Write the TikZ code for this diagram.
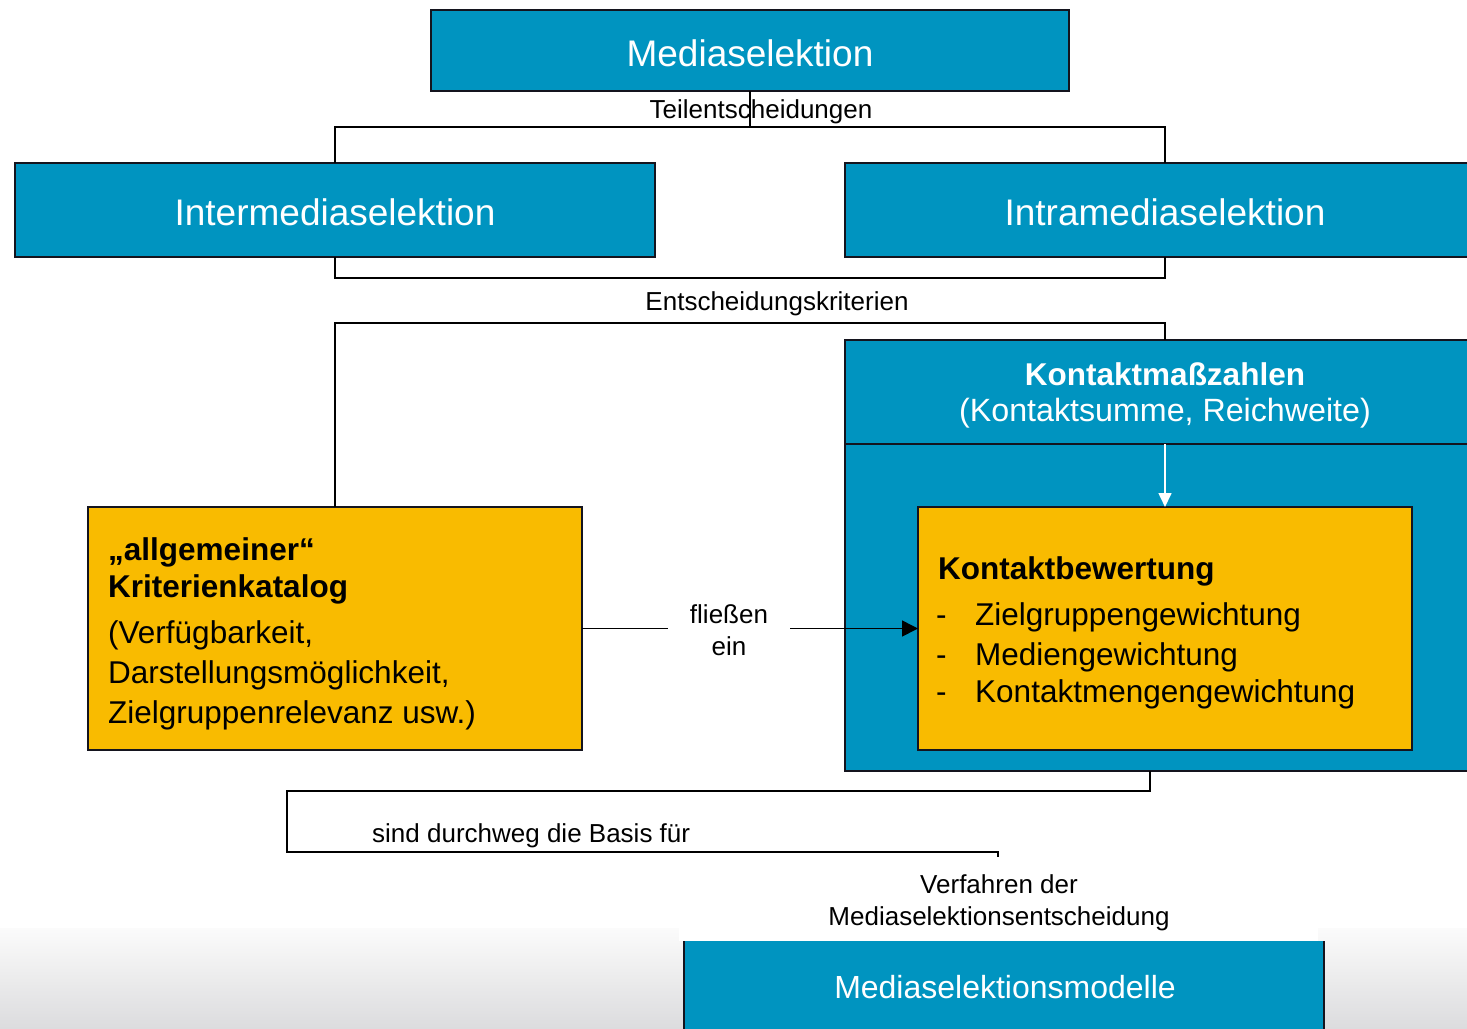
\documentclass[tikz,border=0pt]{standalone}
\usepackage{fontspec}
\setmainfont{Liberation Sans}
\usetikzlibrary{arrows.meta}
\definecolor{mblue}{RGB}{0,148,192}
\definecolor{myell}{RGB}{249,187,0}
\definecolor{edgec}{RGB}{20,20,30}
\definecolor{bgtop}{RGB}{251,251,251}
\definecolor{bgbot}{RGB}{220,220,222}
\begin{document}
\begin{tikzpicture}[x=1pt,y=-1pt,
  bluebox/.style={draw=edgec,line width=2pt,fill=mblue,text=white,inner sep=0pt,outer sep=0pt,anchor=north west},
  yellbox/.style={draw=edgec,line width=2pt,fill=myell,inner sep=0pt,outer sep=0pt,anchor=north west},
  conn/.style={draw=black,line width=1.6pt},
  bigtxt/.style={font=\fontsize{37}{44}\selectfont,text height=31pt,text depth=0pt},
  lbl/.style={font=\fontsize{26}{32}\selectfont,inner sep=0pt},
  body/.style={font=\fontsize{31.5}{40}\selectfont,inner sep=0pt,anchor=base west},
  bodyb/.style={font=\fontsize{31.5}{40}\selectfont\bfseries,inner sep=0pt,anchor=base west},
]
\useasboundingbox (0,0) rectangle (1467,1028);
\clip (0,0) rectangle (1467,1028);

% bottom background gradient
\fill[top color=bgtop,bottom color=bgbot] (0,928) rectangle (1467,1028);
\fill[white] (679,926) rectangle (1318,941);

% top boxes
\node[bluebox,bigtxt,minimum width=638pt,minimum height=81pt] (ms) at (431,10) {Mediaselektion};
\node[bluebox,bigtxt,minimum width=640pt,minimum height=94pt] (inter) at (15,163) {Intermediaselektion};
\node[bluebox,bigtxt,minimum width=640pt,minimum height=94pt] (intra) at (845,163) {Intramediaselektion};

% Teilentscheidungen connectors
\coordinate (t) at (750,127);
\draw[conn] (ms.south -| t) -- (t);
\draw[conn] (inter.north) |- (t) -| (intra.north);
\node[lbl] (tlab) at (761,112) {Teilentscheidungen};

% bracket under the two boxes
\coordinate (b1) at (335,278);
\draw[conn] (inter.south) |- (b1) -| (intra.south);
\node[lbl] (elab) at (777,304) {Entscheidungskriterien};

% big blue box
\node[bluebox,minimum width=640pt,minimum height=431pt] (kbig) at (845,340) {};
\coordinate (dl) at (845,444);
\coordinate (dr) at (1485,444);
\draw[draw=edgec,line width=2pt] (dl) -- (dr);
\node[bodyb,anchor=center,text=white] (kmz) at (1165,374) {Kontaktmaßzahlen};
\node[anchor=center,text=white,inner sep=0pt,font=\fontsize{32.2}{40}\selectfont] (kmz2) at (1165,413) {(Kontaktsumme, Reichweite)};

% inner yellow box
\node[yellbox,minimum width=494pt,minimum height=243pt] (kb) at (918,507) {};
\coordinate (wa) at (kb.north |- dl);
\draw[draw=white,line width=1.6pt,-{Triangle[length=14pt,width=13pt]}] (wa) -- (kb.north);
\node[bodyb] (kb1) at (938,579) {Kontaktbewertung};
\node[body] (d1) at (936,625) {-};
\node[body] (kb2) at (975,625) {Zielgruppengewichtung};
\node[body] (d2) at (936,665) {-};
\node[body] (kb3) at (975,665) {Mediengewichtung};
\node[body] (d3) at (936,702) {-};
\node[body] (kb4) at (975,702) {Kontaktmengengewichtung};

% left yellow box
\node[yellbox,minimum width=494pt,minimum height=243pt] (kat) at (88,507) {};
\node[bodyb] (k1) at (108,560) {„allgemeiner“};
\node[bodyb] (k2) at (108,597) {Kriterienkatalog};
\node[body] (k3) at (108,643) {(Verfügbarkeit,};
\node[body] (k4) at (108,683) {Darstellungsmöglichkeit,};
\node[body] (k5) at (108,723) {Zielgruppenrelevanz usw.)};

% Entscheidungskriterien connector to left box and big box
\coordinate (e1) at (335,323);
\draw[conn] (kat.north) |- (e1) -| (kbig.north -| intra.north);

% fliessen ein
\node[lbl,align=center,minimum width=122pt,font=\fontsize{26}{32}\selectfont] (fl) at (729,630) {fließen\\ein};
\draw[conn] (kat.east) -- (kat.east -| fl.west);
\draw[conn,-{Triangle[length=16pt,width=16pt]}] (kat.east -| fl.east) -- (kb.west);

% sind durchweg die Basis fuer
\coordinate (s0) at (1150,771);
\coordinate (s1) at (1150,791);
\coordinate (s2) at (287,852);
\coordinate (s3) at (998,852);
\coordinate (s4) at (998,857);
\draw[conn] (s0) -- (s1) -| (s2) -- (s3) -- (s4);
\node[lbl,anchor=west] (sd) at (372,836) {sind durchweg die Basis für};

\node[lbl,align=center,font=\fontsize{26}{32}\selectfont] (vf) at (999,903) {Verfahren der\\Mediaselektionsentscheidung};

% bottom box
\node[fill=mblue,inner sep=0pt,outer sep=0pt,anchor=north west,minimum width=640pt,minimum height=110pt] (msm) at (684,941) {};
\draw[draw=edgec,line width=2pt] (msm.north west) -- (msm.south west);
\draw[draw=edgec,line width=2pt] (msm.north east) -- (msm.south east);
\node[text=white,font=\fontsize{32}{38}\selectfont,inner sep=0pt] (msmt) at (1005,987) {Mediaselektionsmodelle};
\end{tikzpicture}
\end{document}
